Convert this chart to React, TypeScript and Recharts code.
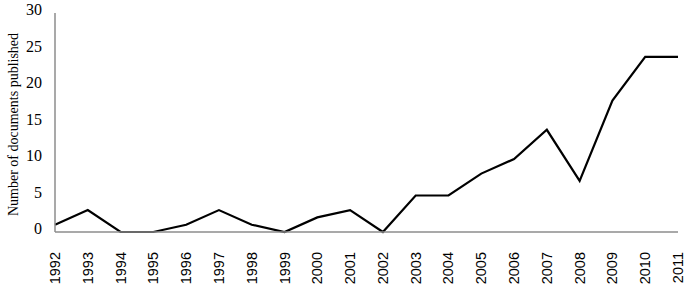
import React from "react";
import { LineChart, Line, XAxis, YAxis } from "recharts";

const years = ["1992","1993","1994","1995","1996","1997","1998","1999","2000","2001","2002","2003","2004","2005","2006","2007","2008","2009","2010","2011"];
const docs = [1, 3, 0, 0, 1, 3, 1, 0, 2, 3, 0, 5, 5, 8, 10, 14, 7, 18, 24, 24];
const yTicks = [0, 5, 10, 15, 20, 25, 30];

const data = years.map((y, i) => ({ year: y, docs: docs[i] }));

const XTick = (props: any) => {
  const { x, y, payload } = props;
  return (
    <text
      x={0}
      y={0}
      transform={`translate(${x + 5},${y + 12}) rotate(-90)`}
      textAnchor="end"
      fontFamily="'Liberation Sans', Arial, sans-serif"
      fontSize={14.5}
      fill="#000"
    >
      {payload.value}
    </text>
  );
};

const YTick = (props: any) => {
  const { x, y, payload } = props;
  return (
    <text
      x={x}
      y={y}
      dy={2}
      textAnchor="end"
      fontFamily="'Liberation Serif', 'Times New Roman', serif"
      fontSize={16}
      fill="#000"
    >
      {payload.value}
    </text>
  );
};

export default function App() {
  return (
    <div style={{ position: "absolute", left: 0, top: 0, width: 700, height: 285, background: "#fff" }}>
      <LineChart width={700} height={285} data={data} margin={{ top: 13, right: 22, left: 0, bottom: 3 }}>
        <XAxis
          dataKey="year"
          interval={0}
          tickLine={false}
          axisLine={{ stroke: "#8c8c8c", strokeWidth: 1.5 }}
          height={50}
          tick={<XTick />}
        />
        <YAxis
          domain={[0, 30]}
          ticks={yTicks}
          interval={0}
          width={55}
          tickLine={false}
          axisLine={{ stroke: "#8c8c8c", strokeWidth: 1.5 }}
          tickMargin={7}
          tick={<YTick />}
          label={{
            value: "Number of documents published",
            angle: -90,
            position: "insideLeft",
            dx: 8,
            dy: 2,
            style: { textAnchor: "middle", fontFamily: "'Liberation Serif', 'Times New Roman', serif", fontSize: 14, fill: "#000" },
          }}
        />
        <Line
          type="linear"
          dataKey="docs"
          stroke="#000"
          strokeWidth={2.2}
          dot={false}
          isAnimationActive={false}
        />
      </LineChart>
    </div>
  );
}
